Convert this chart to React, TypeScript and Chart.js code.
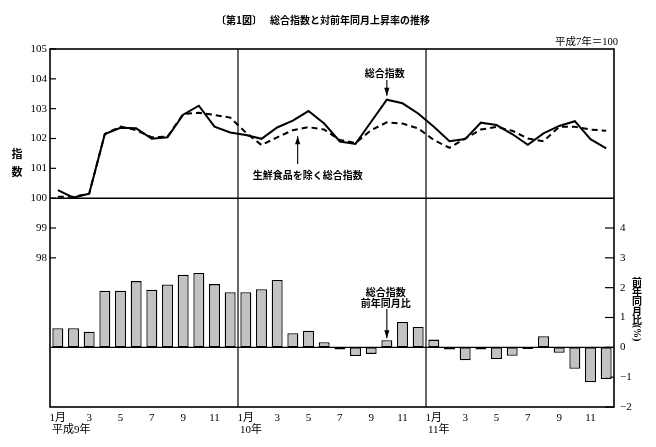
import React, { useEffect, useRef } from 'react';
import { Chart, registerables } from 'chart.js';

Chart.register(...registerables);

// ---- data ----
const monthLabels = [
  '1月', '2', '3', '4', '5', '6', '7', '8', '9', '10', '11', '12',
  '1月', '2', '3', '4', '5', '6', '7', '8', '9', '10', '11', '12',
  '1月', '2', '3', '4', '5', '6', '7', '8', '9', '10', '11', '12',
];
const yearLabels = ['平成9年', '10年', '11年'];

// 総合指数 (平成7年=100)
const generalIndex = [
  100.27, 100.02, 100.15, 102.15, 102.36, 102.34, 101.99, 102.04, 102.8, 103.1, 102.4, 102.2,
  102.12, 101.99, 102.37, 102.6, 102.92, 102.5, 101.9, 101.82, 102.56, 103.3, 103.18, 102.84,
  102.39, 101.91, 101.98, 102.53, 102.45, 102.15, 101.79, 102.17, 102.42, 102.58, 101.98, 101.67,
];
// 生鮮食品を除く総合指数
const coreIndex = [
  100.05, 100.05, 100.15, 102.15, 102.4, 102.28, 102.04, 102.06, 102.82, 102.86, 102.79, 102.7,
  102.2, 101.78, 102.04, 102.28, 102.38, 102.3, 101.95, 101.85, 102.28, 102.54, 102.5, 102.34,
  101.95, 101.69, 102.0, 102.3, 102.39, 102.26, 102.0, 101.91, 102.39, 102.39, 102.3, 102.26,
];
// 総合指数 前年同月比 (%)
const yoyChange = [
  0.64, 0.64, 0.52, 1.9, 1.9, 2.22, 1.93, 2.11, 2.43, 2.49, 2.12, 1.85,
  1.85, 1.95, 2.26, 0.47, 0.56, 0.17, -0.07, -0.29, -0.22, 0.24, 0.85, 0.68,
  0.26, -0.07, -0.43, -0.07, -0.39, -0.28, -0.06, 0.37, -0.18, -0.72, -1.17, -1.06,
];
const leftTicksShown = [98, 99, 100, 101, 102, 103, 104, 105];
const rightTicksShown = [-2, -1, 0, 1, 2, 3, 4];

const SERIF = "'Liberation Serif', 'Noto Sans CJK JP', serif";
const JP = "'Noto Sans CJK JP', sans-serif";

function arrow(ctx: CanvasRenderingContext2D, x: number, yFrom: number, yTip: number) {
  ctx.beginPath();
  ctx.moveTo(x, yFrom);
  ctx.lineTo(x, yTip);
  ctx.stroke();
  const dir = Math.sign(yTip - yFrom);
  ctx.beginPath();
  ctx.moveTo(x, yTip);
  ctx.lineTo(x - 2.6, yTip - dir * 8);
  ctx.lineTo(x + 2.6, yTip - dir * 8);
  ctx.closePath();
  ctx.fill();
}

function line(ctx: CanvasRenderingContext2D, x1: number, y1: number, x2: number, y2: number) {
  ctx.beginPath();
  ctx.moveTo(x1, y1);
  ctx.lineTo(x2, y2);
  ctx.stroke();
}

const decoPlugin = {
  id: 'deco',
  beforeDatasetsDraw(chart: any) {
    const { ctx, chartArea: a, scales } = chart;
    const x = scales.x, y = scales.y, y2 = scales.y2;
    ctx.save();
    ctx.strokeStyle = '#000';
    ctx.lineWidth = 1.5;
    const y100 = y.getPixelForValue(100);
    line(ctx, a.left, y100, a.right, y100);
    ctx.lineWidth = 1.3;
    const y0 = y2.getPixelForValue(0);
    line(ctx, a.left, y0, a.right, y0);
    ctx.lineWidth = 1.2;
    for (const i of [12, 24]) {
      const px = (x.getPixelForValue(i - 1) + x.getPixelForValue(i)) / 2;
      line(ctx, px, a.top, px, a.bottom);
    }
    // inward tick marks
    ctx.lineWidth = 1.2;
    for (const v of leftTicksShown) {
      const py = y.getPixelForValue(v);
      line(ctx, a.left, py, a.left + 6, py);
    }
    for (const v of rightTicksShown) {
      const py = y2.getPixelForValue(v);
      line(ctx, a.right - 9, py, a.right, py);
    }
    ctx.restore();
  },
  afterDatasetsDraw(chart: any) {
    const { ctx, chartArea: a, scales } = chart;
    const x = scales.x, y = scales.y, y2 = scales.y2;
    ctx.save();
    ctx.strokeStyle = '#000';
    ctx.fillStyle = '#000';
    ctx.lineWidth = 1.6;
    ctx.strokeRect(a.left, a.top, a.right - a.left, a.bottom - a.top);

    // year labels under the 1月 ticks
    ctx.font = `11px ${SERIF}`;
    ctx.textAlign = 'left';
    ctx.textBaseline = 'middle';
    yearLabels.forEach((lab, k) => {
      const i = k * 12;
      const left = x.getPixelForValue(i) - (x.getPixelForValue(1) - x.getPixelForValue(0)) / 2;
      ctx.fillText(lab, left + 2, 430);
    });

    // title
    ctx.font = `bold 10px ${JP}`;
    ctx.textBaseline = 'middle';
    ctx.textAlign = 'left';
    ctx.fillText('〔第1図〕', 216, 20);
    ctx.fillText('総合指数と対前年同月上昇率の推移', 270, 20);

    ctx.font = `10.5px ${SERIF}`;
    ctx.textAlign = 'right';
    ctx.fillText('平成7年＝100', 618, 42);

    // left axis title
    ctx.font = `bold 11px ${JP}`;
    ctx.textAlign = 'center';
    ctx.fillText('指', 17, 154);
    ctx.fillText('数', 17, 172);

    // right axis title (vertical)
    const chars = ['前', '年', '同', '月', '比'];
    ctx.font = `bold 10px ${JP}`;
    chars.forEach((c, k) => ctx.fillText(c, 637, 282 + k * 9.6));
    ctx.save();
    ctx.translate(637, 333);
    ctx.rotate(Math.PI / 2);
    ctx.font = `bold 10px ${SERIF}`;
    ctx.fillText('(%)', 0, 0);
    ctx.restore();

    // annotations
    ctx.lineWidth = 1.1;
    ctx.font = `bold 10px ${JP}`;
    ctx.textAlign = 'center';
    const xg = x.getPixelForValue(21);
    ctx.fillText('総合指数', xg - 2, 73);
    arrow(ctx, xg, 80, y.getPixelForValue(generalIndex[21]) - 4);

    const xc = (x.getPixelForValue(15) + x.getPixelForValue(16)) / 2 - 3;
    ctx.fillText('生鮮食品を除く総合指数', xc + 10, 175);
    arrow(ctx, xc, 164, y.getPixelForValue(coreIndex[15]) + 6);

    ctx.fillText('総合指数', xg - 1, 292);
    ctx.fillText('前年同月比', xg - 1, 303);
    arrow(ctx, xg, 309, y2.getPixelForValue(yoyChange[21]) - 2);
    ctx.restore();
  },
};

export default function App() {
  const ref = useRef<HTMLCanvasElement>(null);
  useEffect(() => {
    const canvas = ref.current!;

    const chart = new Chart(canvas, {
      type: 'bar',
      data: {
        labels: monthLabels,
        datasets: [
          {
            type: 'line',
            label: '総合指数',
            data: generalIndex,
            yAxisID: 'y',
            borderColor: '#000',
            borderWidth: 2,
            pointRadius: 0,
            tension: 0,
            fill: false,
          } as any,
          {
            type: 'line',
            label: '生鮮食品を除く総合指数',
            data: coreIndex,
            yAxisID: 'y',
            borderColor: '#000',
            borderWidth: 2,
            borderDash: [6, 4],
            pointRadius: 0,
            tension: 0,
            fill: false,
          } as any,
          {
            type: 'bar',
            label: '総合指数 前年同月比',
            data: yoyChange,
            yAxisID: 'y2',
            backgroundColor: '#c2c2c2',
            borderColor: '#000',
            borderWidth: 1.3,
            borderSkipped: false,
            barPercentage: 0.7,
            categoryPercentage: 1.0,
          } as any,
        ],
      },
      options: {
        responsive: false,
        animation: false,
        layout: { padding: { top: 49, left: 0, right: 0, bottom: 0 } },
        plugins: { legend: { display: false }, tooltip: { enabled: false } },
        scales: {
          x: {
            type: 'category',
            offset: true,
            grid: { display: false, drawTicks: false },
            border: { display: false },
            ticks: {
              autoSkip: false,
              maxRotation: 0,
              padding: 5,
              color: '#000',
              font: { family: SERIF, size: 11 },
              callback: (_v: any, i: number) => (i % 2 === 0 ? monthLabels[i] : ''),
            },
            afterFit: (s: any) => { s.height = 40; },
          },
          y: {
            position: 'left',
            min: 93,
            max: 105,
            grid: { display: false, drawTicks: false },
            border: { display: false },
            ticks: {
              stepSize: 1,
              padding: 3,
              color: '#000',
              font: { family: SERIF, size: 11 },
              callback: (v: any) => (leftTicksShown.includes(v) ? String(v) : ''),
            },
            afterFit: (s: any) => { s.width = 50; },
          },
          y2: {
            position: 'right',
            min: -2,
            max: 10,
            grid: { display: false, drawTicks: false },
            border: { display: false },
            ticks: {
              stepSize: 1,
              padding: 6,
              color: '#000',
              font: { family: SERIF, size: 11 },
              callback: (v: any) =>
                rightTicksShown.includes(v) ? (v < 0 ? '−' + Math.abs(v) : String(v)) : '',
            },
            afterFit: (s: any) => { s.width = 42; },
          },
        },
      } as any,
      plugins: [decoPlugin],
    });
    return () => chart.destroy();
  }, []);

  return (
    <div style={{ position: 'fixed', left: 0, top: 0, width: 656, height: 447, background: '#fff' }}>
      <canvas ref={ref} width={656} height={447} style={{ width: 656, height: 447 }} />
    </div>
  );
}
